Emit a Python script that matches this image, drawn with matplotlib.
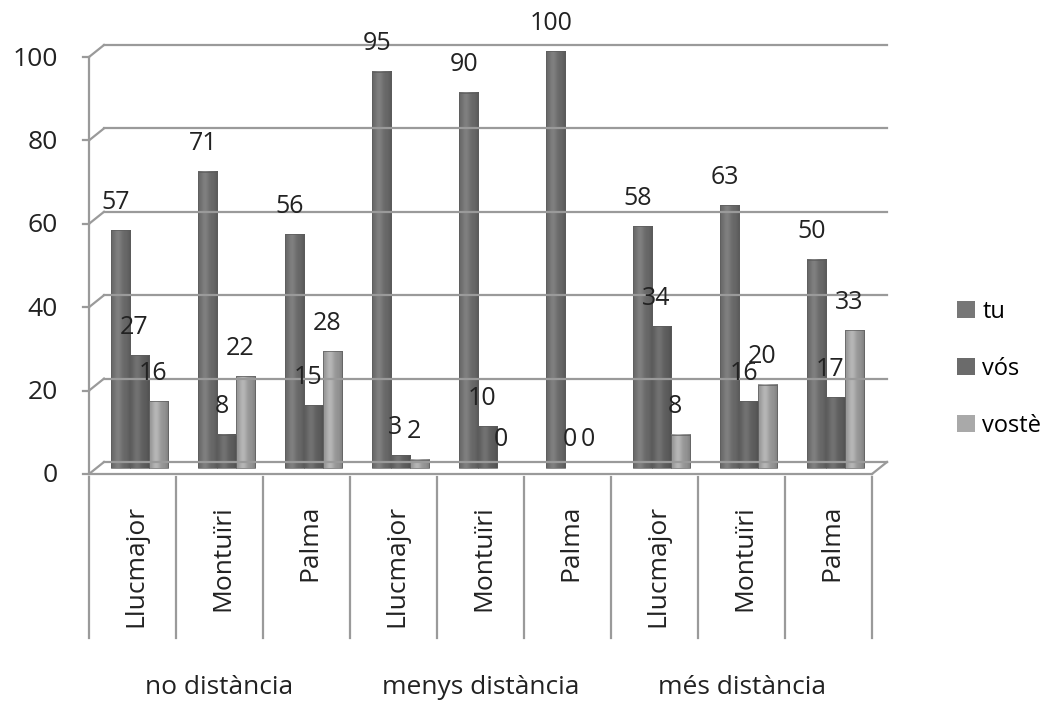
import numpy as np
import matplotlib
matplotlib.use("Agg")
import matplotlib.pyplot as plt
from matplotlib.patches import Rectangle, Patch
from matplotlib.transforms import ScaledTranslation

# tractament per grup de distància i municipi (%)
groups = ["no distància", "menys distància", "més distància"]
towns = ["Llucmajor", "Montuïri", "Palma"]
series = ["tu", "vós", "vostè"]
tu = [57, 71, 56, 95, 90, 100, 58, 63, 50]
vos = [27, 8, 15, 3, 10, 0, 34, 16, 17]
voste = [16, 22, 28, 2, 0, 0, 8, 20, 33]
yticks = [0, 20, 40, 60, 80, 100]

colors = ["#747474", "#686868", "#a6a6a6"]
grid_c = "#9a9a9a"
txt_c = "#222222"
fs = 19

plt.rcParams["font.family"] = ["Open Sans", "DejaVu Sans"]

W, H, DPI = 1053, 701, 100
fig = plt.figure(figsize=(W / DPI, H / DPI), dpi=DPI)
ax = fig.add_axes([89 / W, 1 - 474 / H, 783 / W, 417 / H])
ax.set_axis_off()
ncat = len(tu)
ax.set_xlim(0, ncat)
ax.set_ylim(0, 100)

def px(dx, dy):
    return ax.transData + ScaledTranslation(dx / DPI, dy / DPI, fig.dpi_scale_trans)

def fig_line(xs, ys):
    # line given in figure pixels
    fig.add_artist(plt.Line2D([x / W for x in xs], [y / H for y in ys],
                              color=grid_c, lw=1.6))

back = px(15, 12)
mid = px(7, 6)

# back wall gridlines, left wall slants, ticks and labels
for v in yticks:
    ax.plot([0, ncat], [v, v], color=grid_c, lw=1.6, transform=back, clip_on=False)
    x0, y0 = ax.transData.transform((0, v))
    fig_line([x0, x0 + 15], [y0, y0 + 12])
    fig_line([x0 - 6, x0], [y0, y0])
    ax.text(0, v, str(v), ha="right", va="center", fontsize=fs, color=txt_c,
            transform=px(-31, -2), clip_on=False)

ax.plot([0, 0], [0, 100], color=grid_c, lw=1.6, clip_on=False)
ax.plot([0, ncat], [0, 0], color=grid_c, lw=1.6, clip_on=False)
xr, yr = ax.transData.transform((ncat, 0))
fig_line([xr, xr + 15], [yr, yr + 12])

# bars with cylinder-like shading
w = 0.225
offs = [0.284, 0.5, 0.716]
t = np.linspace(0, 1, 40)
prof = 0.88 + 0.22 * np.exp(-((t - 0.35) / 0.22) ** 2) - 0.12 * np.clip((t - 0.8) / 0.2, 0, 1)
for s, (vals, col) in enumerate(zip([tu, vos, voste], colors)):
    base = np.array(matplotlib.colors.to_rgb(col))
    img = np.clip(base[None, None, :] * prof[None, :, None], 0, 1)
    for i, v in enumerate(vals):
        xc = i + offs[s]
        if v > 0:
            im = ax.imshow(img, extent=(xc - w / 2, xc + w / 2, 0, v), transform=mid,
                           aspect="auto", interpolation="bilinear")
            im.set_clip_on(False)
            ax.add_patch(Rectangle((xc - w / 2, 0), w, v, transform=mid, fill=False,
                                   edgecolor="#5c5c5c", lw=0.5, clip_on=False))
        ax.annotate(str(v), xy=(xc, v), xytext=(2, 34), textcoords="offset pixels",
                    ha="center", va="center", fontsize=18, color=txt_c,
                    annotation_clip=False)

ax.set_xlim(0, ncat)
ax.set_ylim(0, 100)

# category dividers and labels below the floor
for k in range(ncat + 1):
    xk, _ = ax.transData.transform((k, 0))
    fig_line([xk, xk], [H - 477, H - 638])
for i in range(ncat):
    xk, _ = ax.transData.transform((i + 0.5, 0))
    fig.text((xk + 3) / W, 1 - 505 / H, towns[i % 3], rotation=90, ha="center",
             va="top", fontsize=fs, color=txt_c)
for g, name in enumerate(groups):
    xk, _ = ax.transData.transform((g * 3 + 1.5, 0))
    fig.text(xk / W, 1 - 688 / H, name, ha="center", va="center", fontsize=fs,
             color=txt_c)

handles = [Patch(facecolor=c, edgecolor="none") for c in ["#777777", "#6b6b6b", "#a9a9a9"]]
fig.legend(handles, series, loc="center left", bbox_to_anchor=(948 / W, 1 - 369 / H),
           frameon=False, fontsize=17, handlelength=0.75, handleheight=0.75,
           labelspacing=1.4, handletextpad=0.3, borderaxespad=0)

fig.savefig("out.png", dpi=DPI)
